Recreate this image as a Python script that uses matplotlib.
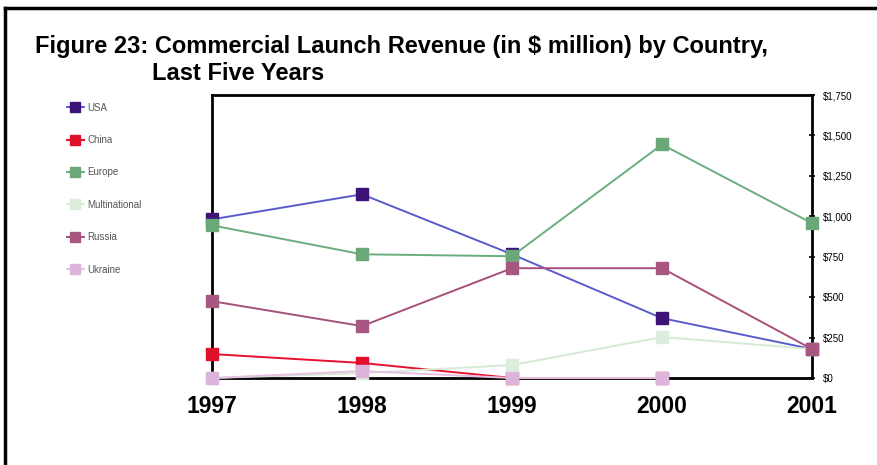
import matplotlib
matplotlib.use("Agg")
import matplotlib.pyplot as plt
import numpy as np
from matplotlib.ticker import FuncFormatter

years = [1997, 1998, 1999, 2000, 2001]
series_names = ["USA", "China", "Europe", "Multinational", "Russia", "Ukraine"]
usa = [981, 1136, 765, 370, 179]
china = [148, 93, 0, 0, np.nan]
europe = [944, 765, 753, 1444, 957]
multinational = [0, 30, 80, 253, 179]
russia = [475, 321, 679, 679, 179]
ukraine = [0, 43, 0, 0, np.nan]
yticks = [0, 250, 500, 750, 1000, 1250, 1500, 1750]

values = [usa, china, europe, multinational, russia, ukraine]
line_colors = ["#5b5bd0", "#e8102f", "#6aae7e", "#d6ead6", "#a8507a", "#e6c0e0"]
marker_colors = ["#3c1478", "#e0102a", "#6aa87a", "#dbeedc", "#a85880", "#dcb4dc"]

plt.rcParams['font.family'] = ['Liberation Sans', 'DejaVu Sans']

fig = plt.figure(figsize=(8.78, 4.65), dpi=100)
ax = fig.add_axes([212/878, 1-378/465, 600/878, 283/465])

handles = []
for name, vals, lc, mc in zip(series_names, values, line_colors, marker_colors):
    h, = ax.plot(years, vals, color=lc, lw=1.4, marker='s', ms=8,
                 markerfacecolor=mc, markeredgecolor=mc, clip_on=False, label=name, zorder=3)
    handles.append(h)

ax.set_xlim(1997, 2001)
ax.set_ylim(0, 1750)
ax.set_xticks(years)
ax.set_xticklabels([str(y) for y in years], fontsize=16.5, fontweight='bold')
ax.tick_params(axis='x', length=0, pad=12)
ax.yaxis.tick_right()
ax.set_yticks(yticks)
ax.yaxis.set_major_formatter(FuncFormatter(lambda v, p: "${:,.0f}".format(v)))
ax.tick_params(axis='y', labelsize=7, length=4, width=1.2, direction='inout', pad=6, colors='black')
for s in ax.spines.values():
    s.set_linewidth(2)
    s.set_color('black')

fig.text(35/878, 1-46/465, "Figure 23: Commercial Launch Revenue (in $ million) by Country,",
         fontsize=17, fontweight='bold', va='center', ha='left')
fig.text(152/878, 1-73/465, "Last Five Years", fontsize=17, fontweight='bold', va='center', ha='left')

leg = fig.legend(handles=handles, loc='upper left', bbox_to_anchor=(58/878, 1-94/465),
                 frameon=False, fontsize=7, labelspacing=2.3, handlelength=1.8,
                 handletextpad=0.3, markerscale=0.85)
for t in leg.get_texts():
    t.set_color('#555555')

# outer frame (top and left)
fig.add_artist(plt.Line2D([5/878, 1], [1-8/465, 1-8/465], transform=fig.transFigure, color='black', lw=2.5))
fig.add_artist(plt.Line2D([5/878, 5/878], [0, 1-8/465], transform=fig.transFigure, color='black', lw=2.5))

fig.savefig("out.png", dpi=100)
